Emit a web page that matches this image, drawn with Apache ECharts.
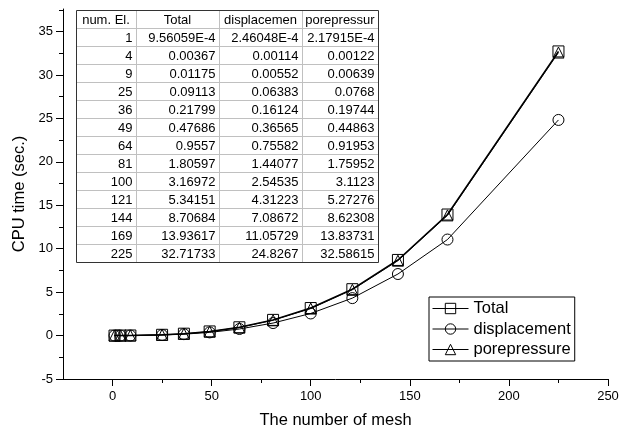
<!DOCTYPE html>
<html>
<head>
<meta charset="utf-8">
<script src="https://cdn.jsdelivr.net/npm/echarts@6/dist/echarts.min.js"></script>
<style>
  html, body { margin: 0; padding: 0; background: #fff; }
  #chart { width: 630px; height: 434px; }
</style>
</head>
<body>
<div id="chart"></div>
<script>
// mesh sizes and cpu times (sec.)
var meshCounts = [1, 4, 9, 25, 36, 49, 64, 81, 100, 121, 144, 169, 225];
var totalTime = [9.56059e-4, 0.00367, 0.01175, 0.09113, 0.21799, 0.47686, 0.9557, 1.80597, 3.16972, 5.34151, 8.70684, 13.93617, 32.71733];
var dispTime = [2.46048e-4, 0.00114, 0.00552, 0.06383, 0.16124, 0.36565, 0.75582, 1.44077, 2.54535, 4.31223, 7.08672, 11.05729, 24.8267];
var poreTime = [2.17915e-4, 0.00122, 0.00639, 0.0768, 0.19744, 0.44863, 0.91953, 1.75952, 3.1123, 5.27276, 8.62308, 13.83731, 32.58615];

var seriesNames = ['Total', 'displacement', 'porepressure'];
var tableHeader = ['num. El.', 'Total', 'displacemen', 'porepressur'];

var xTicks = [0, 50, 100, 150, 200, 250];
var xMinorTicks = [25, 75, 125, 175, 225];
var yTicks = [-5, 0, 5, 10, 15, 20, 25, 30, 35];
var yMinorTicks = [-2.5, 2.5, 7.5, 12.5, 17.5, 22.5, 27.5, 32.5, 37.5];

var FONT = '"Liberation Sans", Arial, sans-serif';

function pairs(ys) {
  return meshCounts.map(function (x, i) { return [x, ys[i]]; });
}

function fmt(v) {
  if (v < 0.001) return v.toExponential(5).toUpperCase();
  return String(v);
}

// table drawn with graphic elements
function buildTable() {
  var colX = [76, 136, 219, 302, 378];
  var top = 10.5, rowH = 18;
  var rows = [tableHeader];
  meshCounts.forEach(function (m, i) {
    rows.push([String(m), fmt(totalTime[i]), fmt(dispTime[i]), fmt(poreTime[i])]);
  });
  var els = [];
  var h = rows.length * rowH;
  els.push({
    type: 'rect',
    shape: { x: colX[0] + 0.5, y: top, width: colX[4] - colX[0], height: h },
    style: { fill: '#fff', stroke: 'none' }
  });
  for (var r = 1; r < rows.length; r++) {
    var y = top + r * rowH;
    els.push({ type: 'line', shape: { x1: colX[0], y1: y, x2: colX[4], y2: y }, style: { stroke: '#c0c0c0', lineWidth: 1 } });
  }
  for (var c = 1; c < 4; c++) {
    els.push({ type: 'line', shape: { x1: colX[c] + 0.5, y1: top, x2: colX[c] + 0.5, y2: top + h }, style: { stroke: '#c0c0c0', lineWidth: 1 } });
  }
  els.push({
    type: 'rect',
    shape: { x: colX[0] + 0.5, y: top, width: colX[4] - colX[0], height: h },
    style: { fill: 'none', stroke: '#333', lineWidth: 1 }
  });
  rows.forEach(function (row, r) {
    row.forEach(function (txt, c) {
      var head = r === 0;
      els.push({
        type: 'text',
        x: head ? (colX[c] + colX[c + 1]) / 2 : colX[c + 1] - 3.5,
        y: top + r * rowH + rowH / 2 + 0.5,
        style: {
          text: txt,
          fill: '#000',
          font: '13px ' + FONT,
          align: head ? 'center' : 'right',
          verticalAlign: 'middle'
        }
      });
    });
  });
  return els;
}

var chart = echarts.init(document.getElementById('chart'));

var lineSeries = function (name, data, symbol, width) {
  return {
    name: name,
    type: 'line',
    data: pairs(data),
    symbol: symbol,
    symbolSize: 11,
    showAllSymbol: true,
    lineStyle: { color: '#000', width: width },
    itemStyle: { color: 'rgba(0,0,0,0)', borderColor: '#000', borderWidth: 1 },
    emphasis: { disabled: true },
    z: 3
  };
};

chart.setOption({
  animation: false,
  backgroundColor: '#fff',
  textStyle: { fontFamily: FONT },
  grid: { left: 63, right: 22, top: 9, bottom: 55, containLabel: false, outerBoundsMode: 'none' },
  legend: {
    orient: 'vertical',
    left: 429,
    top: 297,
    data: seriesNames,
    itemWidth: 36,
    itemHeight: 13,
    itemGap: 1.5,
    padding: [2, 4, 2, 3],
    borderColor: '#000',
    borderWidth: 1,
    backgroundColor: '#fff',
    lineStyle: { width: 1, color: '#000' },
    itemStyle: { borderWidth: 1, borderColor: '#000', color: 'rgba(0,0,0,0)' },
    textStyle: { fontSize: 16.5, color: '#000', fontFamily: FONT, lineHeight: 19 },
    selectedMode: false
  },
  xAxis: [
    {
      type: 'value',
      min: -25,
      max: 250,
      name: 'The number of mesh',
      nameLocation: 'middle',
      nameGap: 33,
      nameTextStyle: { fontSize: 16.5, color: '#000', fontFamily: FONT },
      axisLine: { show: true, onZero: false, lineStyle: { color: '#000', width: 1 } },
      axisTick: { show: true, length: 7, customValues: xTicks, lineStyle: { color: '#000' } },
      axisLabel: { customValues: xTicks, color: '#000', fontSize: 13, margin: 11, fontFamily: FONT },
      splitLine: { show: false }
    },
    {
      type: 'value',
      min: -25,
      max: 250,
      position: 'bottom',
      axisLine: { show: false, onZero: false },
      axisTick: { show: true, length: 4, customValues: xMinorTicks, lineStyle: { color: '#000' } },
      axisLabel: { show: false },
      splitLine: { show: false }
    }
  ],
  yAxis: [
    {
      type: 'value',
      min: -5,
      max: 37.6,
      name: 'CPU time (sec.)',
      nameLocation: 'middle',
      nameGap: 35,
      nameTextStyle: { fontSize: 16.5, color: '#000', fontFamily: FONT },
      axisLine: { show: true, onZero: false, lineStyle: { color: '#000', width: 1 } },
      axisTick: { show: true, length: 7, customValues: yTicks, lineStyle: { color: '#000' } },
      axisLabel: { customValues: yTicks, color: '#000', fontSize: 13, margin: 10, fontFamily: FONT },
      splitLine: { show: false }
    },
    {
      type: 'value',
      min: -5,
      max: 37.6,
      position: 'left',
      axisLine: { show: false, onZero: false },
      axisTick: { show: true, length: 4, customValues: yMinorTicks, lineStyle: { color: '#000' } },
      axisLabel: { show: false },
      splitLine: { show: false }
    }
  ],
  graphic: buildTable(),
  series: [
    lineSeries(seriesNames[0], totalTime, 'rect', 1.5),
    lineSeries(seriesNames[1], dispTime, 'circle', 1),
    lineSeries(seriesNames[2], poreTime, 'triangle', 1)
  ]
});
</script>
</body>
</html>
